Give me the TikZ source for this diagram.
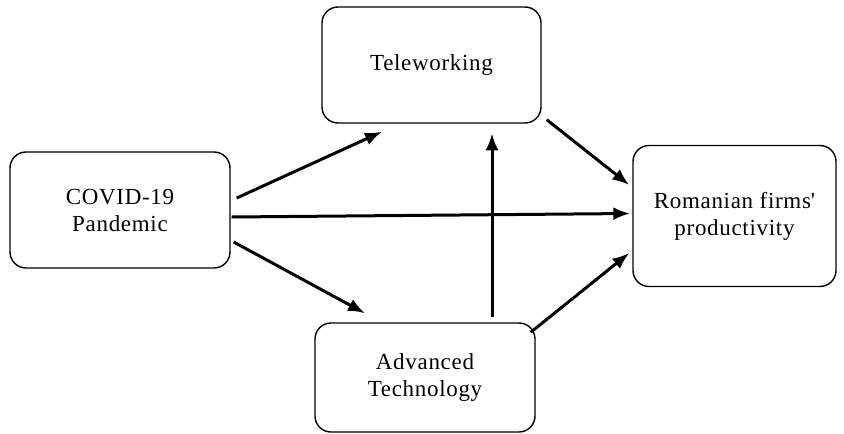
\documentclass[tikz,border=0pt]{standalone}
\usepackage{fontspec}
\setmainfont{Liberation Serif}[LetterSpace=3]
\usetikzlibrary{shapes,arrows,arrows.meta,calc}

\begin{document}
\begin{tikzpicture}[x=1pt, y=1pt, auto, semithick]
  \tikzstyle{block} = [rectangle, draw, line width=1.4pt, rounded corners=16pt,
    text centered, align=center, font=\fontsize{23}{27}\selectfont]
  \tikzstyle{line} = [draw, line width=3pt, -{Latex[length=17pt,width=13pt]}]

  \useasboundingbox (0,0) rectangle (844,-434);

  % Place nodes
  \node [block, minimum width=220pt, minimum height=116pt] (covid) at (120,-210) {COVID-19\\Pandemic};
  \node [block, minimum width=219pt, minimum height=116pt] (tele) at (431.5,-65) {Teleworking};
  \node [block, minimum width=203pt, minimum height=141pt] (rom) at (734.5,-216) {Romanian firms\textquotesingle\\productivity};
  \node [block, minimum width=220pt, minimum height=109pt] (adv) at (425,-377.5) {Advanced\\Technology};

  % Draw edges
  \path [line] ($(covid.east)+(6,12)$) -- ($(tele.south)+(-49.5,-8)$);
  \path [line] ($(covid.east)+(1,-7)$) -- ($(rom.west)+(-2,2.5)$);
  \path [line] ($(covid.east)+(3,-32)$) -- ($(adv.north)+(-60,9)$);
  \path [line] ($(adv.north)+(67,5)$) -- ($(adv.north)+(67,189)$);
  \path [line] ($(tele.south east)+(5,4)$) -- ($(rom.west)+(-3,31)$);
  \path [line] ($(adv.north east)+(-5,-10)$) -- ($(rom.west)+(-3,-37)$);

\end{tikzpicture}
\end{document}
